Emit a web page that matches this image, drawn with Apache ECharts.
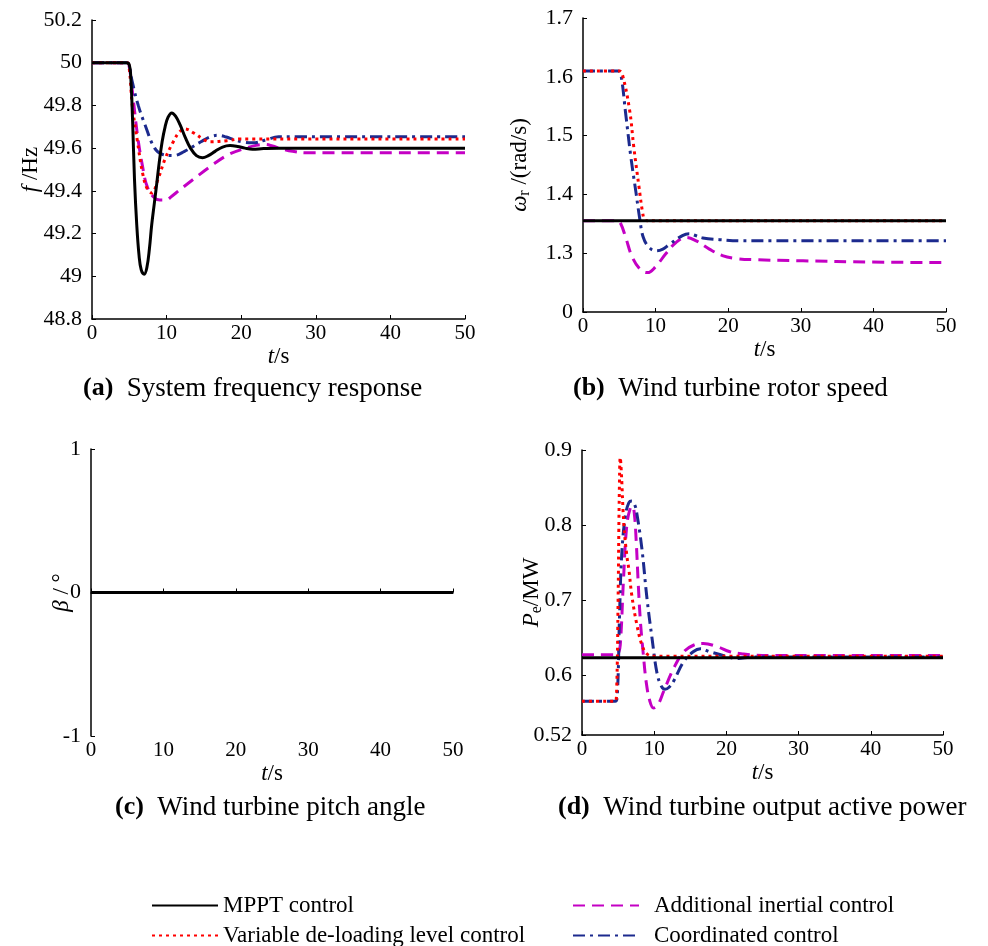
<!DOCTYPE html>
<html>
<head>
<meta charset="utf-8">
<script src="https://cdn.jsdelivr.net/npm/echarts@6/dist/echarts.min.js"></script>
<style>
  html, body { margin: 0; padding: 0; background: #fff; }
  #chart { width: 988px; height: 946px; }
</style>
</head>
<body>
<div id="chart"></div>
<script>
// series names
var seriesNames = ['MPPT control', 'Additional inertial control', 'Coordinated control', 'Variable de-loading level control'];

// (a) system frequency, [t, f]
var freqMppt = [[0,50],[4.6,50],[5,49.99],[5.2,49.93],[5.45,49.72],[5.7,49.45],[6,49.24],[6.3,49.1],[6.6,49.03],[7,49.01],[7.35,49.04],[7.7,49.13],[8,49.24],[8.35,49.34],[8.7,49.44],[9,49.53],[9.4,49.63],[9.8,49.7],[10.2,49.745],[10.7,49.765],[11.2,49.75],[11.8,49.71],[12.5,49.65],[13.2,49.6],[14,49.565],[14.8,49.555],[15.6,49.565],[16.5,49.585],[17.5,49.605],[18.5,49.612],[19.5,49.608],[20.5,49.6],[21.5,49.595],[23,49.598],[25,49.6],[50,49.6]];
var freqInertial = [[0,50],[4.7,50],[5,49.98],[5.4,49.87],[6.1,49.66],[6.8,49.51],[7.4,49.42],[8.3,49.37],[9.1,49.357],[9.9,49.357],[10.7,49.375],[11.6,49.4],[13.8,49.46],[16.1,49.52],[18.3,49.57],[20.6,49.6],[22,49.613],[23.2,49.617],[24.2,49.61],[25.3,49.598],[26.9,49.585],[28.6,49.578],[30,49.578],[50,49.578]];
var freqCoord = [[0,50],[4.7,50],[5,49.98],[5.4,49.91],[6.2,49.8],[7.1,49.71],[8.4,49.6],[9.5,49.57],[10.9,49.565],[12.4,49.585],[14.6,49.63],[16,49.655],[17,49.66],[18,49.652],[19,49.64],[20.3,49.628],[21.6,49.625],[23.4,49.64],[25,49.653],[50,49.653]];
var freqVariable = [[0,50],[4.7,50],[5,49.97],[5.4,49.8],[6.1,49.63],[6.8,49.48],[7.4,49.41],[8,49.39],[8.9,49.46],[9.8,49.55],[10.9,49.63],[11.7,49.675],[12.4,49.69],[13.7,49.67],[15,49.64],[15.9,49.63],[18.1,49.635],[20,49.643],[50,49.643]];

// (b) rotor speed, [t, rad/s]
var speedMppt = [[0,1.355],[50,1.355]];
var speedInertial = [[0,1.355],[4.7,1.355],[5.2,1.35],[5.9,1.326],[6.8,1.293],[8,1.271],[8.9,1.267],[10,1.277],[11.4,1.299],[12.8,1.318],[14.2,1.327],[15.6,1.321],[17.4,1.307],[19.2,1.296],[21.1,1.291],[23.4,1.289],[30.3,1.287],[39.5,1.285],[50,1.284]];
var speedCoord = [[0,1.61],[4.8,1.61],[5.2,1.605],[5.9,1.535],[6.6,1.463],[7.3,1.403],[7.8,1.36],[8.3,1.327],[9.1,1.31],[10.1,1.304],[11,1.307],[11.9,1.315],[13.7,1.33],[14.6,1.333],[15.5,1.33],[16.5,1.326],[18.8,1.323],[22,1.321],[50,1.321]];
var speedVariable = [[0,1.61],[5,1.61],[5.4,1.605],[6.4,1.545],[7,1.48],[7.7,1.414],[8.2,1.37],[8.5,1.357],[9,1.355],[50,1.355]];

// (c) pitch angle
var pitchAll = [[0,0],[50,0]];

// (d) output active power, [t, MW]
var powerMppt = [[0,0.623],[50,0.623]];
var powerInertial = [[0,0.627],[4.7,0.627],[5,0.628],[5.3,0.64],[5.75,0.728],[6.2,0.799],[6.7,0.823],[7,0.825],[7.25,0.815],[7.5,0.78],[7.8,0.72],[8.1,0.67],[8.5,0.627],[8.9,0.59],[9.4,0.565],[9.9,0.556],[10.5,0.56],[11.3,0.578],[12.7,0.609],[14.1,0.631],[15.5,0.64],[16.8,0.642],[18.7,0.638],[20.5,0.631],[22.4,0.628],[25,0.626],[50,0.626]];
var powerCoord = [[0,0.565],[4.6,0.565],[4.9,0.575],[5.2,0.68],[5.5,0.76],[6,0.812],[6.5,0.83],[6.9,0.832],[7.3,0.827],[7.6,0.815],[8.3,0.768],[9,0.702],[9.7,0.649],[10.4,0.602],[11,0.585],[11.5,0.581],[12.1,0.584],[12.7,0.592],[14.1,0.618],[15.4,0.631],[16.4,0.635],[17.7,0.631],[20,0.625],[21.4,0.622],[23.7,0.624],[50,0.624]];
var powerVariable = [[0,0.565],[4.6,0.565],[4.8,0.58],[5,0.7],[5.15,0.83],[5.3,0.89],[5.45,0.87],[5.8,0.8],[6.2,0.76],[6.5,0.74],[6.9,0.706],[7.6,0.667],[8.3,0.64],[9,0.628],[10,0.625],[50,0.625]];

// tick labels
var powerTicks = [0.52, 0.6, 0.7, 0.8, 0.9];

var FONT = 'Liberation Serif';
var styles = {
    'MPPT control': { color: '#000000', type: 'solid', z: 5 },
    'Additional inertial control': { color: '#c400c4', type: [12, 7], z: 2 },
    'Coordinated control': { color: '#1c2a8e', type: [12, 5, 3, 5], z: 3 },
    'Variable de-loading level control': { color: '#ff0000', type: [3, 4], z: 4 }
};

var chart = echarts.init(document.getElementById('chart'));

var grids = [
    { left: 92, right: 523, top: 20, height: 299 },
    { left: 583, right: 42, top: 18, height: 294 },
    { left: 91, right: 535, top: 449, height: 287 },
    { left: 582, right: 45, top: 450, height: 285 }
];

var rich = {
    i: { fontStyle: 'italic', fontFamily: FONT, fontSize: 23, color: '#000' },
    n: { fontFamily: FONT, fontSize: 23, color: '#000' },
    s: { fontFamily: FONT, fontSize: 16, color: '#000', padding: [11, 0, 0, 0] }
};

function xAxisFor(idx) {
    return {
        type: 'value', gridIndex: idx, min: 0, max: 50, interval: 10,
        name: '{i|t}{n|/s}', nameLocation: 'middle', nameGap: 26,
        nameTextStyle: { rich: rich },
        axisLine: { lineStyle: { color: '#000', width: 1.5 } },
        axisTick: { inside: true, length: 4, lineStyle: { color: '#000' } },
        axisLabel: { color: '#000', fontFamily: FONT, fontSize: 21, margin: 4 },
        splitLine: { show: false }
    };
}

function yAxisBase(idx, name, gap) {
    return {
        type: 'value', gridIndex: idx,
        name: name, nameLocation: 'middle', nameRotate: 90, nameGap: gap,
        nameMoveOverlap: false,
        nameTextStyle: { rich: rich },
        axisLine: { show: true, lineStyle: { color: '#000', width: 1.5 } },
        axisTick: { show: true, inside: true, length: 4, lineStyle: { color: '#000' } },
        axisLabel: { color: '#000', fontFamily: FONT, fontSize: 22, margin: 10 },
        splitLine: { show: false }
    };
}

var yA = yAxisBase(0, '{i|f}{n| /Hz}', 50);
yA.min = 48.8; yA.max = 50.2; yA.interval = 0.2;
yA.axisLabel.formatter = function (v) { return String(Math.round(v * 10) / 10); };

var yB = yAxisBase(1, '{i|ω}{s|r}{n| /(rad/s)}', 50);
yB.min = 1.2; yB.max = 1.7; yB.interval = 0.1;
yB.axisLabel.formatter = function (v) { return v < 1.25 ? '0' : v.toFixed(1); };

var yC = yAxisBase(2, '{i|β}{n| / °}', 18);
yC.min = -1; yC.max = 1; yC.interval = 1;

var yD = yAxisBase(3, '{i|P}{s|e}{n|/MW}', 37);
yD.min = 0.52; yD.max = 0.9;
yD.axisLabel.customValues = powerTicks;
yD.axisTick.customValues = powerTicks;
yD.axisLabel.formatter = function (v) { return String(Math.round(v * 100) / 100); };

var panelData = [
    [freqMppt, freqInertial, freqCoord, freqVariable],
    [speedMppt, speedInertial, speedCoord, speedVariable],
    [pitchAll, pitchAll, pitchAll, pitchAll],
    [powerMppt, powerInertial, powerCoord, powerVariable]
];

var series = [];
panelData.forEach(function (set, p) {
    set.forEach(function (d, k) {
        var nm = seriesNames[k];
        var st = styles[nm];
        series.push({
            name: nm, type: 'line', xAxisIndex: p, yAxisIndex: p,
            data: d, showSymbol: false, symbol: 'none',
            smooth: 0.4,
            z: st.z, silent: true,
            lineStyle: { color: st.color, width: 3, type: st.type, cap: 'butt' },
            itemStyle: { color: st.color }
        });
    });
});

var titleRich = {
    b: { fontWeight: 'bold', fontFamily: FONT, fontSize: 26, color: '#000' },
    t: { fontFamily: FONT, fontSize: 27, color: '#000' }
};
function caption(text, left, top) {
    return { text: text, left: left, top: top, textStyle: { rich: titleRich, fontFamily: FONT, fontSize: 27, fontWeight: 'normal' } };
}

function legendItem(name, left, top, pad) {
    return {
        data: [name], left: left, top: top,
        itemWidth: 66, itemHeight: 14, selectedMode: false,
        itemStyle: { opacity: 0 },
        textStyle: { fontFamily: FONT, fontSize: 23, color: '#000', padding: [0, 0, 0, pad] }
    };
}

chart.setOption({
    animation: false,
    backgroundColor: '#fff',
    title: [
        caption('{b|(a)}{t|  System frequency response}', 78, 370),
        caption('{b|(b)}{t|  Wind turbine rotor speed}', 568, 370),
        caption('{b|(c)}{t|  Wind turbine pitch angle}', 110, 789),
        caption('{b|(d)}{t|  Wind turbine output active power}', 553, 789)
    ],
    legend: [
        legendItem('MPPT control', 146, 889, 0),
        legendItem('Variable de-loading level control', 146, 919, 0),
        legendItem('Additional inertial control', 567, 889, 10),
        legendItem('Coordinated control', 567, 919, 10)
    ],
    grid: grids,
    xAxis: [xAxisFor(0), xAxisFor(1), xAxisFor(2), xAxisFor(3)],
    yAxis: [yA, yB, yC, yD],
    series: series
});
</script>
</body>
</html>
